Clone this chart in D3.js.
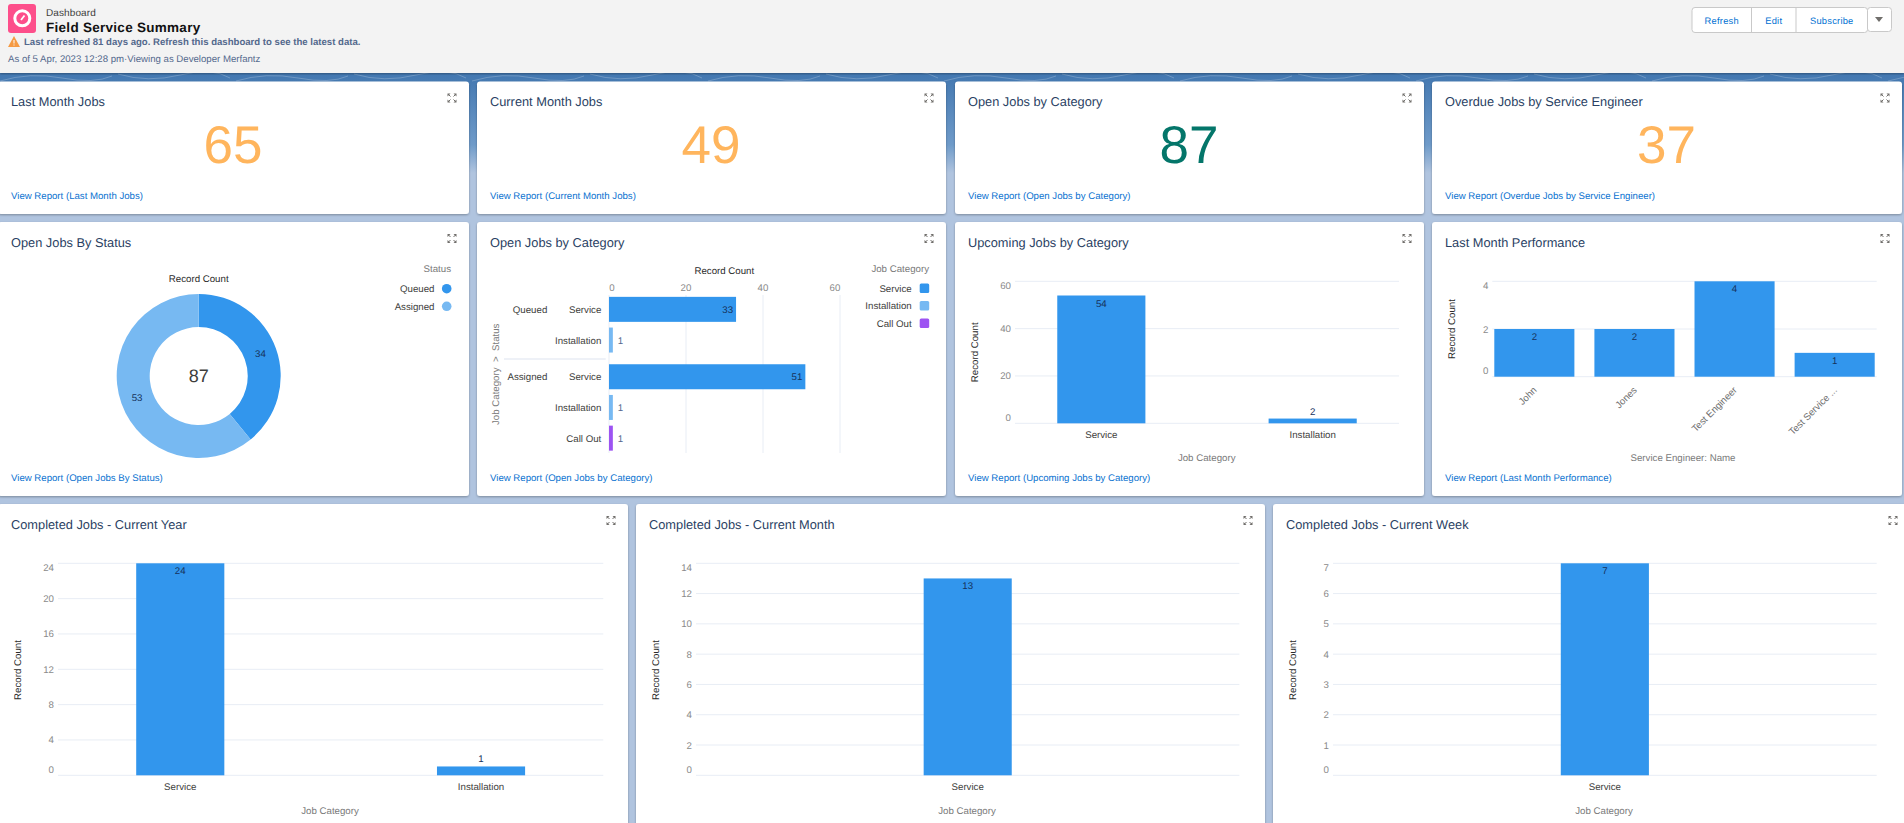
<!DOCTYPE html>
<html>
<head>
<meta charset="utf-8">
<title>Field Service Summary</title>
<script src="https://cdn.jsdelivr.net/npm/d3@7"></script>
<style>
    html, body { margin: 0; padding: 0; overflow: hidden; background: #b0c4df; }
    text { font-family: "Liberation Sans", Arial, sans-serif; text-rendering: geometricPrecision; }
    .tick-label { font-size: 9.7px; fill: #8a8a8a; }
    .rot-label { font-size: 9.7px; fill: #6e6e6e; }
    .cat-label { font-size: 9.7px; fill: #3e3e3c; }
    .value-label { font-size: 9.7px; fill: #16325c; }
    .axis-title { font-size: 9.7px; fill: #7a7a7a; }
    .measure-title { font-size: 9.7px; fill: #2b2b2b; }
    .card-title { font-size: 12.8px; fill: #2a3f63; }
    .link { font-size: 9.65px; fill: #0a72d0; }
    .grid { stroke: #e8edf5; stroke-width: 1; }
</style>
</head>
<body>
<div id="dashboard"></div>
<script>
// Dashboard data
const kpiTitles = ["Last Month Jobs", "Current Month Jobs", "Open Jobs by Category", "Overdue Jobs by Service Engineer"];
const kpiValues = [65, 49, 87, 37];

const statusLabels = ["Queued", "Assigned"];
const statusValues = [34, 53];

const openStatus = ["Queued", "Queued", "Assigned", "Assigned", "Assigned"];
const openCategory = ["Service", "Installation", "Service", "Installation", "Call Out"];
const openValues = [33, 1, 51, 1, 1];
const openTicks = [0, 20, 40, 60];
const openLegend = ["Service", "Installation", "Call Out"];

const upcomingCategories = ["Service", "Installation"];
const upcomingValues = [54, 2];
const upcomingTicks = [0, 20, 40, 60];

const engineerNames = ["John", "Jones", "Test Engineer", "Test Service ..."];
const engineerValues = [2, 2, 4, 1];
const engineerTicks = [0, 2, 4];

const yearCategories = ["Service", "Installation"];
const yearValues = [24, 1];
const yearTicks = [0, 4, 8, 12, 16, 20, 24];

const monthCategories = ["Service"];
const monthValues = [13];
const monthTicks = [0, 2, 4, 6, 8, 10, 12, 14];

const weekCategories = ["Service"];
const weekValues = [7];
const weekTicks = [0, 1, 2, 3, 4, 5, 6, 7];

const BLUE = "#3296ed", LIGHT = "#77b9f2", PURPLE = "#9d53f2";
const categoryColor = d3.scaleOrdinal().domain(openLegend).range([BLUE, LIGHT, PURPLE]);

const svg = d3.select("#dashboard").append("svg")
    .attr("width", 1904)
    .attr("height", 823)
    .style("display", "block");

// page background
const defs = svg.append("defs");
const bg = defs.append("linearGradient").attr("id", "bg")
    .attr("x1", 0).attr("x2", 0).attr("y1", 0).attr("y2", 1);
bg.append("stop").attr("offset", "0%").attr("stop-color", "#4277b0");
bg.append("stop").attr("offset", "72%").attr("stop-color", "#6f9bc9");
bg.append("stop").attr("offset", "100%").attr("stop-color", "#b0c4df");
svg.append("rect").attr("width", 1904).attr("height", 823).attr("fill", "#b0c4df");
svg.append("rect").attr("y", 73).attr("width", 1904).attr("height", 100).attr("fill", "url(#bg)");

// faint contour lines showing through the top band
d3.range(0, 1904, 118).forEach(function (px, i) {
    svg.append("path")
        .attr("d", `M${px},${i % 2 ? 74 : 81} q30,${i % 2 ? 9 : -9} 62,${i % 2 ? 1 : -3} t50,${i % 2 ? 3 : -2}`)
        .attr("fill", "none")
        .attr("stroke", "#fff")
        .attr("stroke-opacity", 0.22);
});

const shadow = defs.append("filter").attr("id", "shadow")
    .attr("x", "-2%").attr("y", "-2%").attr("width", "104%").attr("height", "104%");
shadow.append("feDropShadow").attr("dx", 0).attr("dy", 1).attr("stdDeviation", 1)
    .attr("flood-color", "#000").attr("flood-opacity", 0.3);

// header
function drawHeader() {
    const g = svg.append("g");
    g.append("rect").attr("width", 1904).attr("height", 73).attr("fill", "#f3f3f3")
        .attr("filter", "url(#shadow)");

    g.append("rect").attr("x", 8).attr("y", 4).attr("width", 28).attr("height", 29).attr("rx", 3).attr("fill", "#fd4f8b");
    g.append("circle").attr("cx", 22.3).attr("cy", 18.3).attr("r", 7.5)
        .attr("fill", "none").attr("stroke", "#fff").attr("stroke-width", 3);
    g.append("line").attr("x1", 21).attr("y1", 20).attr("x2", 24.5).attr("y2", 15.5)
        .attr("stroke", "#fff").attr("stroke-width", 1.8);

    g.append("text").attr("x", 46).attr("y", 15.5).text("Dashboard")
        .style("font-size", "10px").style("letter-spacing", "0.1px").style("fill", "#3e3e3c");
    g.append("text").attr("x", 46).attr("y", 32).text("Field Service Summary")
        .style("font-size", "13.5px").style("font-weight", "bold").style("letter-spacing", "0.28px").style("fill", "#111");

    g.append("path").attr("d", "M8,47 L14,36 L20,47 Z").attr("fill", "#f59a43");
    g.append("line").attr("x1", 14).attr("x2", 14).attr("y1", 40).attr("y2", 45.5)
        .attr("stroke", "#fff").attr("stroke-dasharray", "3.5 1");
    g.append("text").attr("x", 24).attr("y", 45).text("Last refreshed 81 days ago. Refresh this dashboard to see the latest data.")
        .style("font-size", "9.6px").style("font-weight", "bold").style("fill", "#54698d");
    g.append("text").attr("x", 8).attr("y", 61.5).text("As of 5 Apr, 2023 12:28 pm\u00b7Viewing as Developer Merfantz")
        .style("font-size", "9.63px").style("fill", "#54698d");

    const buttons = [["Refresh", 1692, 1751.5], ["Edit", 1751.5, 1796], ["Subscribe", 1796, 1867.5]];
    g.append("rect").attr("x", 1867.5).attr("y", 7.5).attr("width", 24).attr("height", 24).attr("rx", 3)
        .attr("fill", "#fff").attr("stroke", "#c9c9c9");
    g.append("rect").attr("x", 1692).attr("y", 7.5).attr("width", 175.5).attr("height", 25).attr("rx", 3)
        .attr("fill", "#fff").attr("stroke", "#c9c9c9");
    buttons.forEach(function (b, i) {
        if (i > 0) {
            g.append("line").attr("x1", b[1]).attr("x2", b[1]).attr("y1", 7.5).attr("y2", 32.5).attr("stroke", "#c9c9c9");
        }
        g.append("text").attr("x", (b[1] + b[2]) / 2).attr("y", 24).attr("text-anchor", "middle").text(b[0])
            .style("font-size", "9.3px").style("letter-spacing", "0.25px").style("fill", "#0070d2");
    });
    g.append("path").attr("d", "M1875,17 L1883,17 L1879,22 Z").attr("fill", "#706e6b");
}

// card with title, expand icon and optional report link
function drawCard(x0, x1, y0, y1, title, link) {
    const g = svg.append("g");
    g.append("rect").attr("x", x0).attr("y", y0).attr("width", x1 - x0).attr("height", y1 - y0)
        .attr("rx", 3).attr("fill", "#fff").attr("filter", "url(#shadow)");
    g.append("text").attr("class", "card-title").attr("x", x0 + 13).attr("y", y0 + 24.5).text(title);

    // expand icon
    const cx = x1 - 17, cy = y0 + 16.5;
    [[-1, -1], [1, -1], [-1, 1], [1, 1]].forEach(function (c) {
        const sx = c[0], sy = c[1];
        g.append("path")
            .attr("d", `M${cx + sx * 4.5},${cy + sy * 4.5} h${-sx * 3} l${sx * 3},${-sy * 3} Z`)
            .attr("fill", "#706e6b");
        g.append("line")
            .attr("x1", cx + sx * 1.5).attr("y1", cy + sy * 1.5)
            .attr("x2", cx + sx * 3.5).attr("y2", cy + sy * 3.5)
            .attr("stroke", "#706e6b");
    });

    if (link) {
        g.append("text").attr("class", "link").attr("x", x0 + 13).attr("y", y1 - 15).text(link);
    }
    return g;
}

function viewReport(title) {
    return "View Report (" + title + ")";
}

// horizontal rule, tick label and the nudge the first/last labels get
function drawYAxis(g, y, ticks, gridLeft, gridRight, labelRight) {
    g.selectAll(".grid-y").data(ticks).enter().append("line")
        .attr("class", "grid grid-y")
        .attr("x1", gridLeft).attr("x2", gridRight)
        .attr("y1", d => y(d)).attr("y2", d => y(d));
    const last = ticks.length - 1;
    g.selectAll(".y-label").data(ticks).enter().append("text")
        .attr("class", "tick-label y-label")
        .attr("x", labelRight)
        .attr("y", d => y(d))
        .attr("dy", (d, i) => i === 0 ? -2.5 : i === last ? 7.5 : 3.5)
        .attr("text-anchor", "end")
        .text(d => d);
}

// vertical bar chart shared by the lower cards
function drawColumnChart(g, opt) {
    const x = d3.scaleBand().domain(opt.categories)
        .range([opt.left, opt.right])
        .paddingInner(opt.paddingInner)
        .paddingOuter(opt.paddingOuter);
    const y = d3.scaleLinear().domain([0, d3.max(opt.ticks)]).range([opt.bottom, opt.top]);

    drawYAxis(g, y, opt.ticks, opt.left, opt.right, opt.left - 4);

    g.selectAll(".bar").data(opt.values).enter().append("rect")
        .attr("class", "bar")
        .attr("x", (d, i) => x(opt.categories[i]))
        .attr("y", d => y(d))
        .attr("width", x.bandwidth())
        .attr("height", d => y(0) - y(d))
        .attr("fill", BLUE);

    // small bars carry the value above, tall bars inside
    g.selectAll(".bar-value").data(opt.values).enter().append("text")
        .attr("class", "value-label bar-value")
        .attr("x", (d, i) => x(opt.categories[i]) + x.bandwidth() / 2)
        .attr("y", d => (y(0) - y(d)) < 14 ? y(d) - 4 : y(d) + 11)
        .attr("text-anchor", "middle")
        .text(d => d);

    if (opt.rotate) {
        opt.categories.forEach(function (c) {
            const lx = x(c) + x.bandwidth() / 2 + 3, ly = opt.bottom + 14;
            g.append("text").attr("class", "rot-label")
                .attr("transform", `translate(${lx},${ly}) rotate(-45)`)
                .attr("text-anchor", "end")
                .text(c);
        });
    } else {
        g.selectAll(".x-label").data(opt.categories).enter().append("text")
            .attr("class", "cat-label x-label")
            .attr("x", d => x(d) + x.bandwidth() / 2)
            .attr("y", opt.bottom + 15)
            .attr("text-anchor", "middle")
            .text(d => d);
    }

    g.append("text").attr("class", "axis-title")
        .attr("x", opt.xTitleX).attr("y", opt.xTitleY)
        .attr("text-anchor", "middle").text(opt.xTitle);
    g.append("text").attr("class", "measure-title")
        .attr("transform", `translate(${opt.yTitleX},${opt.yTitleY}) rotate(-90)`)
        .attr("text-anchor", "middle").text("Record Count");
}

function drawDonut(g) {
    const cx = 198.7, cy = 376;
    const color = d3.scaleOrdinal().domain(statusLabels).range([BLUE, LIGHT]);
    const pie = d3.pie().sort(null);
    const arc = d3.arc().innerRadius(49).outerRadius(82);
    const ring = g.append("g").attr("transform", `translate(${cx},${cy})`);

    ring.selectAll("path").data(pie(statusValues)).enter().append("path")
        .attr("d", arc)
        .attr("fill", (d, i) => color(statusLabels[i]));
    ring.selectAll(".slice-value").data(pie(statusValues)).enter().append("text")
        .attr("class", "value-label slice-value")
        .attr("transform", d => `translate(${arc.centroid(d)})`)
        .attr("dy", "0.35em")
        .attr("text-anchor", "middle")
        .text(d => d.value);
    ring.append("text").attr("text-anchor", "middle").attr("dy", "0.35em")
        .text(d3.sum(statusValues))
        .style("font-size", "18px").style("fill", "#3e3e3c");

    g.append("text").attr("class", "measure-title").attr("x", cx).attr("y", 282)
        .attr("text-anchor", "middle").text("Record Count");

    g.append("text").attr("class", "axis-title").attr("x", 451).attr("y", 272)
        .attr("text-anchor", "end").text("Status");
    const legendY = d3.scalePoint().domain(statusLabels).range([288.7, 306.3]);
    statusLabels.forEach(function (s) {
        g.append("text").attr("class", "cat-label").attr("x", 434.5).attr("y", legendY(s) + 3.5)
            .attr("text-anchor", "end").text(s);
        g.append("circle").attr("cx", 446.7).attr("cy", legendY(s)).attr("r", 4.8).attr("fill", color(s));
    });
}

function drawOpenJobs(g) {
    const x = d3.scaleLinear().domain([0, 60]).range([609, 840]);
    const y = d3.scaleBand().domain(d3.range(openValues.length)).range([294, 447.5]);
    const statusIndex = openStatus.map(s => Array.from(new Set(openStatus)).indexOf(s));
    const rowY = i => y(i) + y.bandwidth() / 2 + statusIndex[i] * 6;
    const barH = 25;

    g.append("text").attr("class", "measure-title").attr("x", 724.3).attr("y", 273.5)
        .attr("text-anchor", "middle").text("Record Count");

    g.selectAll(".grid-x").data(openTicks).enter().append("line")
        .attr("class", "grid grid-x")
        .attr("x1", d => x(d)).attr("x2", d => x(d))
        .attr("y1", 295).attr("y2", 453);
    g.selectAll(".x-tick").data(openTicks).enter().append("text")
        .attr("class", "tick-label x-tick")
        .attr("x", d => x(d))
        .attr("dx", (d, i) => i === 0 ? 3 : i === openTicks.length - 1 ? -5 : 0)
        .attr("y", 290.5)
        .attr("text-anchor", "middle")
        .text(d => d);

    g.selectAll(".bar").data(openValues).enter().append("rect")
        .attr("class", "bar")
        .attr("x", x(0))
        .attr("y", (d, i) => rowY(i) - barH / 2)
        .attr("width", d => x(d) - x(0))
        .attr("height", barH)
        .attr("fill", (d, i) => categoryColor(openCategory[i]));

    g.selectAll(".bar-value").data(openValues).enter().append("text")
        .attr("class", "value-label bar-value")
        .attr("x", d => d > 5 ? x(d) - 3 : x(d) + 5)
        .attr("y", (d, i) => rowY(i) + 3.5)
        .attr("text-anchor", d => d > 5 ? "end" : "start")
        .style("fill", d => d > 5 ? "#16325c" : "#54698d")
        .text(d => d);

    g.selectAll(".row-label").data(openCategory).enter().append("text")
        .attr("class", "cat-label row-label")
        .attr("x", 601.3)
        .attr("y", (d, i) => rowY(i) + 3.5)
        .attr("text-anchor", "end")
        .text(d => d);

    g.selectAll(".group-label").data(openStatus).enter()
        .filter((d, i) => i === 0 || openStatus[i - 1] !== d)
        .append("text")
        .attr("class", "cat-label group-label")
        .attr("x", 547.3)
        .attr("y", d => rowY(openStatus.indexOf(d)) + 3.5)
        .attr("text-anchor", "end")
        .text(d => d);

    g.append("line").attr("x1", 504).attr("x2", 605.7).attr("y1", 359).attr("y2", 359)
        .attr("stroke", "#e8edf5").attr("stroke-width", 1.5);

    g.append("text").attr("class", "axis-title")
        .attr("transform", "translate(499,374.3) rotate(-90)")
        .attr("text-anchor", "middle")
        .text("Job Category \u00a0>\u00a0 Status");

    g.append("text").attr("class", "axis-title").attr("x", 929).attr("y", 272)
        .attr("text-anchor", "end").text("Job Category");
    const legendY = d3.scalePoint().domain(openLegend).range([288.3, 323.3]);
    openLegend.forEach(function (c) {
        g.append("text").attr("class", "cat-label").attr("x", 911.7).attr("y", legendY(c) + 3.5)
            .attr("text-anchor", "end").text(c);
        g.append("rect").attr("x", 919.7).attr("y", legendY(c) - 4.8)
            .attr("width", 9.5).attr("height", 9.5).attr("rx", 1.5)
            .attr("fill", categoryColor(c));
    });
}

drawHeader();

// row 1: single numbers
const kpiEdges = [[-2, 469], [477, 946], [955, 1424], [1432, 1902]];
const kpiColor = d3.scaleOrdinal().domain(kpiValues).range(["#ffb55d", "#ffb55d", "#04766a", "#ffb55d"]);
kpiTitles.forEach(function (title, i) {
    const e = kpiEdges[i];
    const g = drawCard(e[0], e[1], 81.5, 214, title, viewReport(title));
    g.append("text")
        .attr("x", (e[0] + e[1]) / 2 - 0.5)
        .attr("y", 163)
        .attr("text-anchor", "middle")
        .text(kpiValues[i])
        .style("font-size", "53px")
        .style("fill", kpiColor(kpiValues[i]));
});

// row 2
drawDonut(drawCard(-2, 469, 222, 496, "Open Jobs By Status", viewReport("Open Jobs By Status")));
drawOpenJobs(drawCard(477, 946, 222, 496, "Open Jobs by Category", viewReport("Open Jobs by Category")));
drawColumnChart(drawCard(955, 1424, 222, 496, "Upcoming Jobs by Category", viewReport("Upcoming Jobs by Category")), {
    categories: upcomingCategories, values: upcomingValues, ticks: upcomingTicks,
    left: 1015, right: 1399, top: 281.3, bottom: 423.3,
    paddingInner: 0.583, paddingOuter: 0.2,
    xTitle: "Job Category", xTitleX: 1206.7, xTitleY: 461,
    yTitleX: 978, yTitleY: 352.3
});
drawColumnChart(drawCard(1432, 1902, 222, 496, "Last Month Performance", viewReport("Last Month Performance")), {
    categories: engineerNames, values: engineerValues, ticks: engineerTicks,
    left: 1492.3, right: 1876.7, top: 281.3, bottom: 376.7,
    paddingInner: 0.2, paddingOuter: 0.02, rotate: true,
    xTitle: "Service Engineer: Name", xTitleX: 1683, xTitleY: 461,
    yTitleX: 1455, yTitleY: 329
});

// row 3 runs off the bottom of the window
drawColumnChart(drawCard(-2, 628, 504, 840, "Completed Jobs - Current Year"), {
    categories: yearCategories, values: yearValues, ticks: yearTicks,
    left: 58, right: 603.3, top: 563.3, bottom: 775.3,
    paddingInner: 0.707, paddingOuter: 0.26,
    xTitle: "Job Category", xTitleX: 330, xTitleY: 813.5,
    yTitleX: 20.5, yTitleY: 670
});
drawColumnChart(drawCard(636, 1265, 504, 840, "Completed Jobs - Current Month"), {
    categories: monthCategories, values: monthValues, ticks: monthTicks,
    left: 696, right: 1239.4, top: 563.3, bottom: 775.3,
    paddingInner: 0, paddingOuter: 2.585,
    xTitle: "Job Category", xTitleX: 967, xTitleY: 813.5,
    yTitleX: 659, yTitleY: 670
});
drawColumnChart(drawCard(1273, 1910, 504, 840, "Completed Jobs - Current Week"), {
    categories: weekCategories, values: weekValues, ticks: weekTicks,
    left: 1333, right: 1876.7, top: 563.3, bottom: 775.3,
    paddingInner: 0, paddingOuter: 2.585,
    xTitle: "Job Category", xTitleX: 1604, xTitleY: 813.5,
    yTitleX: 1295.5, yTitleY: 670
});
</script>
</body>
</html>
